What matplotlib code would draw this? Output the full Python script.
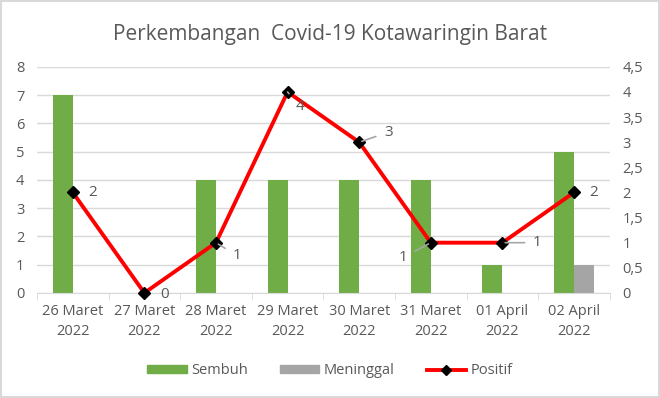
import numpy as np
import matplotlib.pyplot as plt
from matplotlib.lines import Line2D
from matplotlib.patches import Patch

tanggal = ["26 Maret\n2022", "27 Maret\n2022", "28 Maret\n2022", "29 Maret\n2022",
           "30 Maret\n2022", "31 Maret\n2022", "01 April\n2022", "02 April\n2022"]
sembuh = [7, 0, 4, 4, 4, 4, 1, 5]
meninggal = [0, 0, 0, 0, 0, 0, 0, 1]
positif = [2, 0, 1, 4, 3, 1, 1, 2]

# label offsets in pixels (dx, dy) and whether a leader line is drawn
label_pos = [(20, 0, False), (20, -2, False), (21, -13, True), (12, -15, True),
             (29, 10, True), (-28, -15, True), (35, 0, True), (20, 0, False)]

abu = "#595959"
plt.rcParams['font.family'] = ['Open Sans', 'DejaVu Sans']

fig = plt.figure(figsize=(6.6, 3.98), dpi=100)
ax = fig.add_axes([0.056, 0.264, 0.868, 0.568])
ax2 = ax.twinx()

x = np.arange(len(tanggal))
w = 0.28
ax.bar(x - w / 2, sembuh, w, color="#70ad47", zorder=2)
ax.bar(x + w / 2, meninggal, w, color="#a5a5a5", zorder=2)

ax.set_xlim(-0.5, len(tanggal) - 0.5)
ax.set_ylim(0, 8)
ax.set_yticks(range(0, 9))
ax.grid(axis="y", color="#d9d9d9", linewidth=1, zorder=0)
ax.set_xticks(x)
ax.set_xticklabels(tanggal, color=abu, fontsize=10.5, linespacing=1.45)
ax.set_xticks(np.arange(-0.5, len(tanggal)), minor=True)
ax.tick_params(axis="x", which="major", length=0, pad=8)
ax.tick_params(axis="x", which="minor", length=5, color="#d9d9d9")
ax.tick_params(axis="y", length=0, labelcolor=abu, labelsize=10.5, pad=9)

ax2.plot(x, positif, color="#ff0000", linewidth=2.8, marker="D", markersize=6,
         markerfacecolor="black", markeredgecolor="black", zorder=3, clip_on=False)
ax2.set_ylim(0, 4.5)
yt = np.arange(0, 4.51, 0.5)
ax2.set_yticks(yt)
ax2.set_yticklabels([("%g" % v).replace(".", ",") for v in yt])
ax2.tick_params(axis="y", length=0, labelcolor=abu, labelsize=10.5, pad=9)

for a in (ax, ax2):
    for s in a.spines.values():
        s.set_visible(False)
ax.spines["bottom"].set_visible(True)
ax.spines["bottom"].set_color("#d9d9d9")

for i, v in enumerate(positif):
    dx, dy, garis = label_pos[i]
    props = dict(arrowstyle="-", color="#a6a6a6", lw=1.2, shrinkA=4, shrinkB=2) if garis else None
    ax2.annotate(str(v), (x[i], v), xytext=(dx, dy), textcoords="offset pixels",
                 ha="center", va="center", color=abu, fontsize=11,
                 arrowprops=props, zorder=4)

fig.suptitle("Perkembangan  Covid-19 Kotawaringin Barat", y=0.94, fontsize=15, color=abu)

handles = [Patch(color="#70ad47", label="Sembuh"),
           Patch(color="#a5a5a5", label="Meninggal"),
           Line2D([], [], color="#ff0000", lw=2.8, marker="D", markersize=5,
                  markerfacecolor="black", markeredgecolor="black", label="Positif")]
fig.legend(handles=handles, loc="center", bbox_to_anchor=(0.5, 0.068), ncol=3,
           frameon=False, fontsize=10.5, labelcolor=abu, handlelength=2.7,
           handleheight=0.45, columnspacing=2.2, handletextpad=0.3)

fig.patches.append(plt.Rectangle((0.002, 0.002), 0.996, 0.996, transform=fig.transFigure,
                                 fill=False, edgecolor="#d9d9d9", lw=1.5))

fig.savefig("out.png", dpi=100)
